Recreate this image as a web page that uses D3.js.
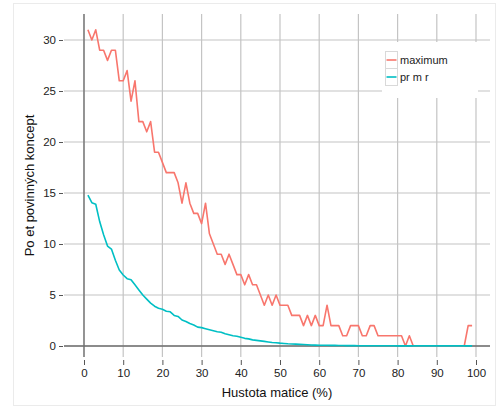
<!DOCTYPE html>
<html>
<head>
<meta charset="utf-8">
<script src="https://cdn.jsdelivr.net/npm/d3@7"></script>
<style>
  body { margin: 0; background: #fff; }
  svg { font-family: "Liberation Sans", Arial, sans-serif; }
</style>
</head>
<body>
<svg id="chart" width="500" height="407"></svg>
<script>
const density = d3.range(1, 100);

const maximum = [
  31, 30, 31, 29, 29, 28, 29, 29, 26, 26,
  27, 24, 26, 22, 22, 21, 22, 19, 19, 18,
  17, 17, 17, 16, 14, 16, 14, 13, 13, 12,
  14, 11, 10, 9, 9, 8, 9, 8, 7, 7,
  6, 7, 6, 6, 5, 4, 5, 4, 5, 4,
  4, 4, 3, 3, 3, 2, 3, 2, 3, 2,
  2, 4, 2, 2, 2, 1, 1, 2, 2, 2,
  1, 1, 2, 2, 1, 1, 1, 1, 1, 1,
  1, 0, 1, 0, 0, 0, 0, 0, 0, 0,
  0, 0, 0, 0, 0, 0, 0, 2, 2
];

const prumer = [
  14.8, 14.05, 13.9, 12.2, 10.9, 9.8, 9.5, 8.4, 7.45, 6.96,
  6.6, 6.5, 6.0, 5.5, 5.0, 4.6, 4.2, 3.9, 3.7, 3.6,
  3.4, 3.35, 3.0, 2.9, 2.55, 2.4, 2.2, 2.06, 1.85, 1.8,
  1.7, 1.6, 1.5, 1.4, 1.35, 1.2, 1.1, 1.0, 0.95, 0.85,
  0.75, 0.7, 0.6, 0.55, 0.5, 0.45, 0.4, 0.35, 0.32, 0.28,
  0.25, 0.22, 0.2, 0.18, 0.16, 0.14, 0.12, 0.1, 0.09, 0.08,
  0.07, 0.07, 0.06, 0.06, 0.05, 0.05, 0.04, 0.04, 0.04, 0.03,
  0.03, 0.03, 0.03, 0.02, 0.02, 0.02, 0.02, 0.02, 0.02, 0.01,
  0.01, 0.01, 0.01, 0.01, 0.01, 0.01, 0.01, 0.01, 0.01, 0.01,
  0.01, 0.01, 0.01, 0.01, 0.01, 0.01, 0.01, 0.01, 0.01
];

const xTicks = [0, 10, 20, 30, 40, 50, 60, 70, 80, 90, 100];
const yTicks = [0, 5, 10, 15, 20, 25, 30];
const seriesNames = ["maximum", "pr m r"];
const seriesColors = ["#F8766D", "#00BFC4"];

const svg = d3.select("#chart");

// outer frame
svg.append("rect")
  .attr("x", 13.5).attr("y", 3.5)
  .attr("width", 482).attr("height", 402)
  .attr("fill", "#fff")
  .attr("stroke", "#ebebeb");

const panel = { left: 64, right: 490, top: 14, bottom: 357 };

const x = d3.scaleLinear().domain([0, 100]).range([84, 476]);
const y = d3.scaleLinear().domain([0, 30]).range([346, 40]);

// grid
const grid = svg.append("g").attr("stroke", "#c4c4c4").attr("stroke-width", 1.2);
grid.selectAll("line.v")
  .data(xTicks)
  .join("line")
  .attr("class", "v")
  .attr("x1", d => x(d)).attr("x2", d => x(d))
  .attr("y1", panel.top).attr("y2", panel.bottom);
grid.selectAll("line.h")
  .data(yTicks)
  .join("line")
  .attr("class", "h")
  .attr("y1", d => y(d)).attr("y2", d => y(d))
  .attr("x1", panel.left).attr("x2", panel.right);

// axis lines through zero
svg.append("line")
  .attr("x1", panel.left).attr("x2", panel.right)
  .attr("y1", y(0)).attr("y2", y(0))
  .attr("stroke", "#6e6e6e").attr("stroke-width", 1.3);
svg.append("line")
  .attr("x1", x(0)).attr("x2", x(0))
  .attr("y1", panel.top).attr("y2", panel.bottom)
  .attr("stroke", "#6e6e6e").attr("stroke-width", 1.3);

// x axis ticks + labels
const xAxis = d3.axisBottom(x).tickValues(xTicks).tickSize(5).tickPadding(4);
const gx = svg.append("g")
  .attr("transform", `translate(0,${panel.bottom + 3})`)
  .call(xAxis);
gx.select(".domain").remove();
gx.selectAll(".tick line").attr("stroke", "#555");
gx.selectAll(".tick text").attr("font-size", 11.5).attr("fill", "#222")
  .attr("font-family", "Liberation Sans, Arial, sans-serif");

// y axis ticks + labels
const yAxis = d3.axisLeft(y).tickValues(yTicks).tickSize(4).tickPadding(3);
const gy = svg.append("g")
  .attr("transform", `translate(${panel.left - 1},0)`)
  .call(yAxis);
gy.select(".domain").remove();
gy.selectAll(".tick line").attr("stroke", "#555");
gy.selectAll(".tick text").attr("font-size", 11.5).attr("fill", "#222")
  .attr("font-family", "Liberation Sans, Arial, sans-serif");

// axis titles
svg.append("text")
  .attr("x", (panel.left + panel.right) / 2)
  .attr("y", 397)
  .attr("text-anchor", "middle")
  .attr("font-size", 13)
  .attr("fill", "#111")
  .text("Hustota matice (%)");

svg.append("text")
  .attr("transform", `translate(34,${(panel.top + panel.bottom) / 2}) rotate(-90)`)
  .attr("text-anchor", "middle")
  .attr("font-size", 13)
  .attr("fill", "#111")
  .text("Po et povinných koncept");

// lines
const line = d3.line()
  .x((d, i) => x(density[i]))
  .y(d => y(d));

[maximum, prumer].forEach(function (values, k) {
  svg.append("path")
    .datum(values)
    .attr("fill", "none")
    .attr("stroke", seriesColors[k])
    .attr("stroke-width", 1.6)
    .attr("stroke-linejoin", "round")
    .attr("d", line);
});

// legend
const legend = svg.append("g");
legend.append("rect")
  .attr("x", 382).attr("y", 42)
  .attr("width", 96).attr("height", 56)
  .attr("fill", "#fff");

seriesNames.forEach(function (name, k) {
  const ky = 51 + k * 17;
  legend.append("rect")
    .attr("x", 385.5).attr("y", ky + 0.5)
    .attr("width", 12).attr("height", 17)
    .attr("fill", "#fff")
    .attr("stroke", "#d9d9d9");
  legend.append("line")
    .attr("x1", 386.5).attr("x2", 396.5)
    .attr("y1", ky + 9).attr("y2", ky + 9)
    .attr("stroke", seriesColors[k])
    .attr("stroke-width", 1.6);
  legend.append("text")
    .attr("x", 400).attr("y", ky + 9)
    .attr("dy", "0.35em")
    .attr("font-size", 11)
    .attr("fill", "#222")
    .text(name);
});
</script>
</body>
</html>
